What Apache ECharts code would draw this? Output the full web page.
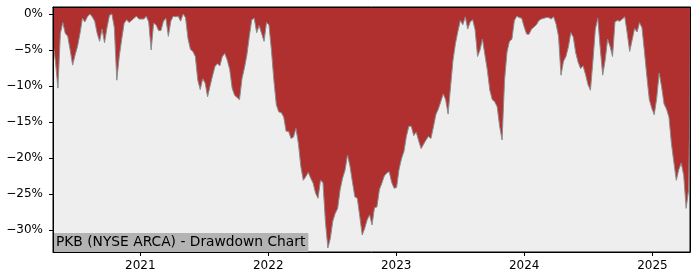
<!DOCTYPE html>
<html>
<head>
<meta charset="utf-8">
<script src="https://cdn.jsdelivr.net/npm/echarts@6/dist/echarts.min.js"></script>
<style>
html,body{margin:0;padding:0;background:#fff;}
#chart{width:700px;height:280px;}
</style>
</head>
<body>
<div id="chart"></div>
<script>
// Weekly drawdown readings (%), first week starting 2020-04-27
const startDate = Date.UTC(2020, 3, 27);
const lastDate = Date.UTC(2025, 3, 18);
const lastValue = -24.2;

const dd2020 = [
  -4.1,-6.6,-10.3,-2.7,-1.2,-2.7,-3.1,-5.0,-7.1,-5.7,
  -4.5,-2.7,-0.6,-1.1,-0.4,0,-0.4,-1.0,-2.7,-3.8,
  -2.1,-4.0,-1.9,-0.2,0,-1.9,-9.2,-5.9,-3.5,-1.3,
  -0.8,-1.2,-0.9,-0.6,-0.3,-0.7,-0.7,-0.7,-0.3,-1.1,
  -5.0,-1.3,-1.5,-2.3,-2.3,-1.0,-0.6,-3.1,-1.0,-0.3,
  -0.4,-0.3
];
const dd2021 = [
  -1.0,0,-0.5,-3.4,-4.9,-5.2,-5.9,-9.2,-10.5,-9.0,
  -9.6,-11.5,-10.0,-8.6,-7.3,-6.9,-7.2,-5.9,-5.5,-6.4,
  -7.7,-10.3,-11.3,-11.6,-11.9,-9.0,-7.5,-5.7,-3.1,-0.8,
  -0.6,-2.6,-1.6,-2.7,-3.8,-1.2,-1.5,-5.0,-9.2,-12.6,
  -13.6,-13.7,-14.3,-16.3,-16.3,-17.3,-17.1,-15.9,-18.0,-21.2,
  -23.1,-22.6
];
const dd2022 = [
  -22.0,-22.8,-23.5,-24.9,-25.6,-23.1,-23.4,-28.8,-32.5,-31.2,
  -28.8,-27.7,-27.0,-24.4,-22.8,-21.7,-19.6,-21.1,-23.3,-25.4,
  -25.6,-28.1,-30.7,-29.8,-28.6,-27.9,-29.3,-26.9,-26.8,-24.4,
  -23.5,-22.5,-22.1,-21.9,-23.4,-24.2,-24.1,-21.6,-20.1,-19.1,
  -17.0,-15.6,-15.6,-16.9,-16.4,-17.6,-18.7,-18.1,-17.5,-17.0,
  -17.3,-15.7
];
const dd2023 = [
  -14.0,-13.2,-12.2,-11.1,-11.9,-13.9,-10.1,-6.4,-4.1,-2.4,
  -0.9,-1.5,-0.4,-2.1,-1.1,-0.8,-2.2,-5.9,-5.0,-3.5,
  -5.7,-7.8,-10.6,-11.9,-12.2,-12.9,-15.6,-17.5,-9.2,-5.3,
  -3.8,-3.5,-0.9,-0.3,-0.5,-0.6,-1.8,-2.8,-2.8,-2.1,
  -1.8,-1.5,-0.9,-0.7,-0.6,-0.5,-0.5,-0.7,-0.4,-1.4,
  -3.1,-8.5
];
const dd2024 = [
  -6.6,-5.9,-4.6,-2.6,-3.2,-5.4,-6.7,-7.6,-7.2,-8.4,
  -9.8,-10.6,-6.6,-2.1,-0.6,-4.8,-8.5,-6.4,-3.5,-4.5,
  -5.9,-1.1,-0.9,-1.0,-0.7,-0.4,-2.7,-5.2,-3.6,-2.0,
  -2.5,-1.2,-1.9,-5.2,-8.7,-11.9,-13.1,-14.0,-11.7,-8.2,
  -10.1,-12.5,-13.2,-14.3,-18.0,-20.6,-23.1,-21.6,-20.7,-22.4,
  -27.0,-24.4
];

const yearTicks = [2021, 2022, 2023, 2024, 2025];
const yTicks = [0, -5, -10, -15, -20, -25, -30];
const titleText = 'PKB (NYSE ARCA) - Drawdown Chart';

const weekMs = 7 * 86400000;
const allValues = [].concat(dd2020, dd2021, dd2022, dd2023, dd2024);
const seriesData = allValues.map((v, i) => [startDate + i * weekMs, v]);
seriesData.push([lastDate, lastValue]);
const yearTickTimes = yearTicks.map(y => Date.UTC(y, 0, 1));

const font = 'DejaVu Sans';
const chart = echarts.init(document.getElementById('chart'), null, {renderer: 'canvas'});
chart.setOption({
  animation: false,
  backgroundColor: '#ffffff',
  title: {
    text: titleText,
    left: 53, top: 233,
    padding: [2, 3, 2, 3],
    backgroundColor: '#b3b3b3',
    textStyle: {fontFamily: font, fontSize: 13.8, fontWeight: 'normal', color: '#000', lineHeight: 15}
  },
  grid: {left: 53, right: 10, top: 7, bottom: 28, show: true, backgroundColor: '#eeeeee', borderColor: '#000', borderWidth: 1},
  xAxis: [{
    type: 'value',
    min: startDate, max: lastDate,
    z: 10,
    axisLine: {show: true, onZero: false, lineStyle: {color: '#000', width: 1}},
    axisTick: {show: true, length: 4, lineStyle: {color: '#000'}, customValues: yearTickTimes},
    axisLabel: {customValues: yearTickTimes, margin: 8, fontFamily: font, fontSize: 12, color: '#000',
      formatter: v => String(new Date(v).getUTCFullYear())},
    splitLine: {show: false}
  }, {
    type: 'value', position: 'top', min: startDate, max: lastDate, z: 10,
    axisLine: {show: true, onZero: false, lineStyle: {color: '#000', width: 1}},
    axisTick: {show: false}, axisLabel: {show: false}, splitLine: {show: false}
  }],
  yAxis: [{
    type: 'value',
    min: -33.06, max: 0.97,
    z: 10,
    axisLine: {show: true, onZero: false, lineStyle: {color: '#000', width: 1}},
    axisTick: {show: true, length: 4, lineStyle: {color: '#000'}, customValues: yTicks},
    axisLabel: {customValues: yTicks, margin: 10, fontFamily: font, fontSize: 12, color: '#000',
      formatter: v => (v < 0 ? '\u2212' + Math.abs(v) : String(v)) + '%'},
    splitLine: {show: false}
  }, {
    type: 'value', position: 'right', min: -33.06, max: 0.97, z: 10,
    axisLine: {show: true, onZero: false, lineStyle: {color: '#000', width: 1}},
    axisTick: {show: false}, axisLabel: {show: false}, splitLine: {show: false}
  }],
  series: [{
    type: 'line',
    xAxisIndex: 0, yAxisIndex: 0,
    data: seriesData,
    showSymbol: false,
    symbol: 'none',
    lineStyle: {color: '#8c8c8c', width: 1},
    areaStyle: {color: '#b03030', opacity: 1, origin: 'end'},
    z: 2
  }]
});
</script>
</body>
</html>
